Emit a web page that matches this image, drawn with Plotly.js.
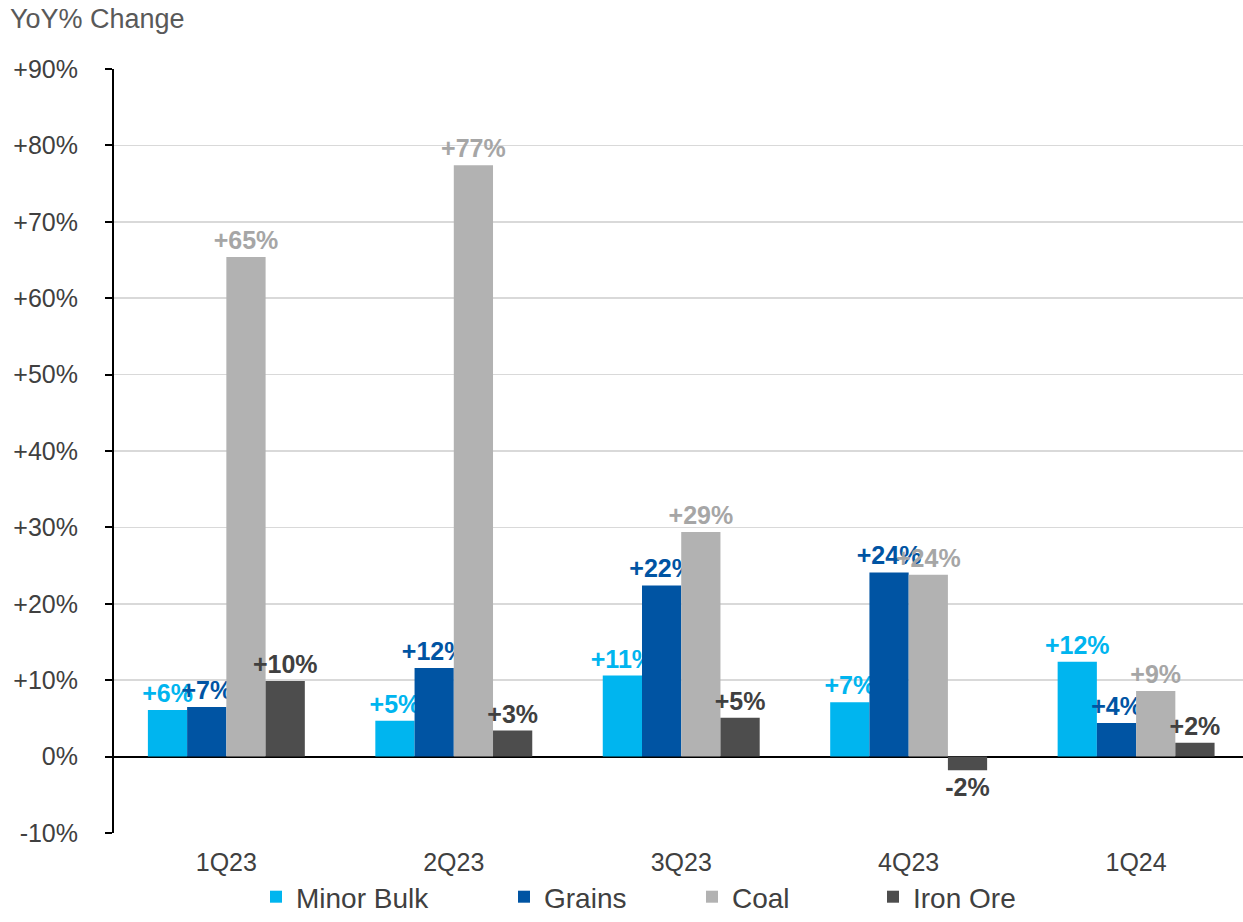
<!DOCTYPE html>
<html>
<head>
<meta charset="utf-8">
<script src="https://cdn.plot.ly/plotly-3.0.1.min.js"></script>
<style>html,body{margin:0;padding:0;background:#fff;}#chart{width:1243px;height:922px;}</style>
</head>
<body>
<div id="chart"></div>
<script>
const quarters = ["1Q23", "2Q23", "3Q23", "4Q23", "1Q24"];
const minorBulk = [6.1, 4.7, 10.6, 7.1, 12.4];
const grains = [6.5, 11.6, 22.4, 24.1, 4.4];
const coal = [65.4, 77.4, 29.4, 23.8, 8.6];
const ironOre = [9.9, 3.4, 5.1, -1.8, 1.8];
const yTickVals = [-10, 0, 10, 20, 30, 40, 50, 60, 70, 80, 90];
const yTickText = ["-10%", "0%", "+10%", "+20%", "+30%", "+40%", "+50%", "+60%", "+70%", "+80%", "+90%"];

function fmt(v) { const r = Math.round(v); return (r > 0 ? "+" : "") + r + "%"; }

const series = [
  {name: "Minor Bulk", y: minorBulk, color: "#00b5ef", tcolor: "#00b5ef", legend: "legend", lx: 256},
  {name: "Grains", y: grains, color: "#0054a3", tcolor: "#0054a3", legend: "legend2", lx: 504},
  {name: "Coal", y: coal, color: "#b2b2b2", tcolor: "#a6a6a6", legend: "legend3", lx: 692},
  {name: "Iron Ore", y: ironOre, color: "#4d4d4d", tcolor: "#404040", legend: "legend4", lx: 873}
];

const traces = series.map(s => ({
  type: "bar",
  name: s.name,
  legend: s.legend,
  x: quarters,
  y: s.y,
  text: s.y.map(fmt),
  textposition: "outside",
  constraintext: "none",
  cliponaxis: false,
  textfont: {family: "Liberation Sans, Arial, sans-serif", size: 25, color: s.tcolor, weight: "bold"},
  marker: {color: s.color},
  hoverinfo: "skip"
}));

const layout = {
  width: 1243, height: 922,
  margin: {l: 114, r: 0, t: 69, b: 89},
  paper_bgcolor: "#fff", plot_bgcolor: "#fff",
  font: {family: "Liberation Sans, Arial, sans-serif", color: "#404040"},
  barmode: "group",
  bargap: 0.31,
  bargroupgap: 0,
  showlegend: true,
  title: {text: "YoY% Change", x: 0.008, xanchor: "left", xref: "container", y: 0.99, yanchor: "top", yref: "container", font: {size: 27, color: "#595959"}},
  xaxis: {
    type: "category",
    range: [-0.494, 4.47],
    showline: false, ticks: "", showgrid: false, zeroline: false,
    tickfont: {size: 25, color: "#404040"},
    ticklabelstandoff: 12
  },
  yaxis: {
    range: [-10, 90],
    tickvals: yTickVals, ticktext: yTickText,
    showline: true, linecolor: "#000", linewidth: 2,
    ticks: "outside", ticklen: 7, tickcolor: "#000", tickwidth: 2,
    showgrid: true, gridcolor: "#d9d9d9", gridwidth: 1.5,
    zeroline: true, zerolinecolor: "#000", zerolinewidth: 2,
    tickfont: {size: 25, color: "#404040"},
    ticklabelstandoff: 22
  }
};

series.forEach(s => {
  layout[s.legend] = {
    orientation: "h", xref: "container", yref: "container",
    x: s.lx / 1243, xanchor: "left", y: -0.016, yanchor: "bottom",
    font: {size: 28, color: "#404040"},
    itemwidth: 30,
    bgcolor: "rgba(0,0,0,0)"
  };
});

Plotly.newPlot("chart", traces, layout, {staticPlot: true});
</script>
</body>
</html>
